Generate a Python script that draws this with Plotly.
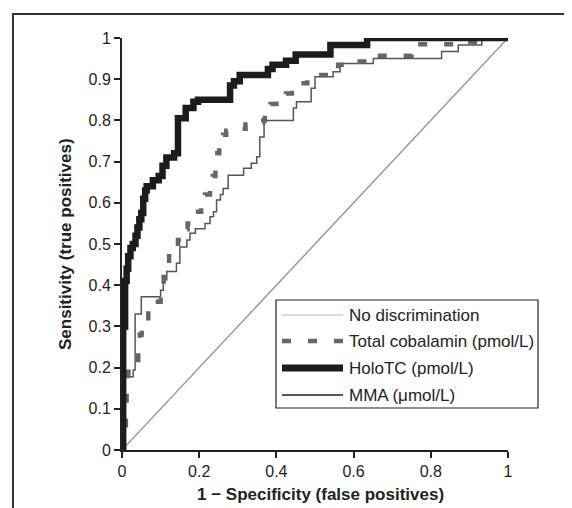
import plotly.graph_objects as go

# ---- data ----
diag_x = [0, 1]
diag_y = [0, 1]

holotc_fpr = [0, 0.003, 0.008, 0.012, 0.016, 0.022, 0.028, 0.035, 0.04, 0.045, 0.05, 0.055, 0.06, 0.064,
              0.08, 0.095, 0.105, 0.115, 0.135, 0.145, 0.165, 0.185, 0.197, 0.28, 0.29, 0.305, 0.378,
              0.39, 0.425, 0.45, 0.54, 0.635, 1.0]
holotc_tpr = [0, 0.30, 0.41, 0.44, 0.47, 0.49, 0.50, 0.52, 0.54, 0.56, 0.575, 0.61, 0.63, 0.64,
              0.655, 0.665, 0.69, 0.71, 0.72, 0.805, 0.83, 0.845, 0.85, 0.885, 0.895, 0.91, 0.925,
              0.935, 0.945, 0.96, 0.983, 1.0, 1.0]

mma_fpr = [0, 0.005, 0.008, 0.029, 0.034, 0.05, 0.10, 0.107, 0.116, 0.141, 0.15, 0.168, 0.176, 0.19,
           0.215, 0.228, 0.237, 0.245, 0.255, 0.262, 0.275, 0.315, 0.335, 0.349, 0.357, 0.368, 0.444,
           0.452, 0.49, 0.50, 0.547, 0.565, 0.651, 0.828, 0.871, 0.932, 1.0]
mma_tpr = [0, 0.12, 0.178, 0.194, 0.33, 0.372, 0.388, 0.413, 0.433, 0.453, 0.493, 0.51, 0.526, 0.537,
           0.55, 0.566, 0.578, 0.607, 0.62, 0.635, 0.667, 0.684, 0.696, 0.712, 0.76, 0.80, 0.83,
           0.845, 0.878, 0.906, 0.918, 0.938, 0.95, 0.967, 0.983, 0.995, 1.0]

cbl_fpr = [0, 0.005, 0.01, 0.012, 0.016, 0.025, 0.035, 0.042, 0.046, 0.051, 0.06, 0.068, 0.085, 0.10,
           0.108, 0.114, 0.122, 0.131, 0.145, 0.157, 0.17, 0.185, 0.19, 0.205, 0.215, 0.228, 0.235,
           0.242, 0.247, 0.252, 0.262, 0.27, 0.30, 0.32, 0.36, 0.366, 0.37, 0.385, 0.40, 0.425, 0.44,
           0.46, 0.48, 0.545, 0.56, 0.59, 0.65, 0.75, 0.86, 0.93, 1.0]
cbl_tpr = [0, 0.06, 0.12, 0.15, 0.19, 0.20, 0.21, 0.24, 0.28, 0.30, 0.32, 0.35, 0.36, 0.38,
           0.42, 0.44, 0.47, 0.495, 0.51, 0.536, 0.55, 0.565, 0.578, 0.60, 0.62, 0.645, 0.665,
           0.69, 0.72, 0.745, 0.765, 0.775, 0.78, 0.79, 0.795, 0.80, 0.825, 0.84, 0.85, 0.865, 0.878,
           0.89, 0.91, 0.92, 0.935, 0.943, 0.957, 0.985, 0.99, 1.0, 1.0]

legend_labels = ["No discrimination", "Total cobalamin (pmol/L)", "HoloTC (pmol/L)", "MMA (\u03bcmol/L)"]
y_ticks = [0, 0.1, 0.2, 0.3, 0.4, 0.5, 0.6, 0.7, 0.8, 0.9, 1]
x_ticks = [0, 0.2, 0.4, 0.6, 0.8, 1]

# ---- styles ----
C_DIAG = "#999999"
C_CBL = "#666666"
C_HOLO = "#1c1c1c"
C_MMA = "#555555"
FONT = "Liberation Sans, Arial, sans-serif"

fig = go.Figure()
fig.add_trace(go.Scatter(x=diag_x, y=diag_y, mode="lines", line=dict(color=C_DIAG, width=1.5),
                         name=legend_labels[0], showlegend=False))
fig.add_trace(go.Scatter(x=mma_fpr, y=mma_tpr, mode="lines", line=dict(color=C_MMA, width=1.5, shape="hv"),
                         name=legend_labels[3], showlegend=False))
fig.add_trace(go.Scatter(x=cbl_fpr, y=cbl_tpr, mode="lines",
                         line=dict(color=C_CBL, width=4.5, shape="hv", dash="9px,17px"),
                         name=legend_labels[1], showlegend=False))
fig.add_trace(go.Scatter(x=holotc_fpr, y=holotc_tpr, mode="lines",
                         line=dict(color=C_HOLO, width=6.5, shape="hv"),
                         name=legend_labels[2], showlegend=False))

# plot-area geometry in screen pixels (page has an 8px body margin)
OFF = 8
L, R, T, B = 122, 508, 38, 450
W, H = 572 - OFF, 508 - OFF


def px(x):
    return (x - L) / (R - L)


def py(y):
    return (B - y) / (B - T)


shapes = []
# outer frame (extends past right and bottom edges)
shapes.append(dict(type="rect", xref="paper", yref="paper", x0=px(13), x1=px(620), y0=py(580), y1=py(14),
                   line=dict(color="#333333", width=2), fillcolor="rgba(0,0,0,0)", layer="above"))
# legend box
shapes.append(dict(type="rect", xref="paper", yref="paper", x0=px(276), x1=px(538), y0=py(408), y1=py(300),
                   line=dict(color="#222222", width=1.2), fillcolor="white", layer="above"))
rows = [315, 341, 368, 395]
samples = [dict(color="#cfcfcf", width=1.5),
           dict(color=C_CBL, width=4.5, dash="9px,17px"),
           dict(color=C_HOLO, width=7),
           dict(color=C_MMA, width=2)]
annotations = []
for r, s, lab in zip(rows, samples, legend_labels):
    shapes.append(dict(type="line", xref="paper", yref="paper", x0=px(282), x1=px(343), y0=py(r), y1=py(r),
                       line=s, layer="above"))
    annotations.append(dict(x=px(347), y=py(r), xref="paper", yref="paper", text=lab, showarrow=False,
                            xanchor="left", yanchor="middle", font=dict(family=FONT, size=17, color="#222222")))

# axis titles
annotations.append(dict(x=px(320), y=py(494), xref="paper", yref="paper",
                        text="<b>1 \u2212 Specificity (false positives)</b>", showarrow=False,
                        xanchor="center", yanchor="middle", font=dict(family=FONT, size=17, color="#222222")))
annotations.append(dict(x=px(65), y=py(244), xref="paper", yref="paper",
                        text="<b>Sensitivity (true positives)</b>", showarrow=False, textangle=-90,
                        xanchor="center", yanchor="middle", font=dict(family=FONT, size=17, color="#222222")))

fig.update_layout(
    width=W, height=H,
    margin=dict(l=L - OFF, r=W - (R - OFF), t=T - OFF, b=H - (B - OFF)),
    paper_bgcolor="white", plot_bgcolor="white",
    showlegend=False,
    shapes=shapes, annotations=annotations,
    font=dict(family=FONT, size=16, color="#222222"),
)
fig.update_xaxes(range=[0, 1], tickvals=x_ticks, ticktext=[f"{v:g}" for v in x_ticks],
                 showgrid=False, zeroline=False, showline=True, linecolor="#222222", linewidth=2,
                 ticks="outside", ticklen=6, tickwidth=1.5, tickcolor="#222222",
                 tickfont=dict(family=FONT, size=16, color="#222222"))
fig.update_yaxes(range=[0, 1], tickvals=y_ticks, ticktext=[f"{v:g}" for v in y_ticks],
                 showgrid=False, zeroline=False, showline=True, linecolor="#222222", linewidth=2,
                 ticks="outside", ticklen=6, tickwidth=1.5, tickcolor="#222222",
                 tickfont=dict(family=FONT, size=16, color="#222222"))

fig.write_html("out.html")
